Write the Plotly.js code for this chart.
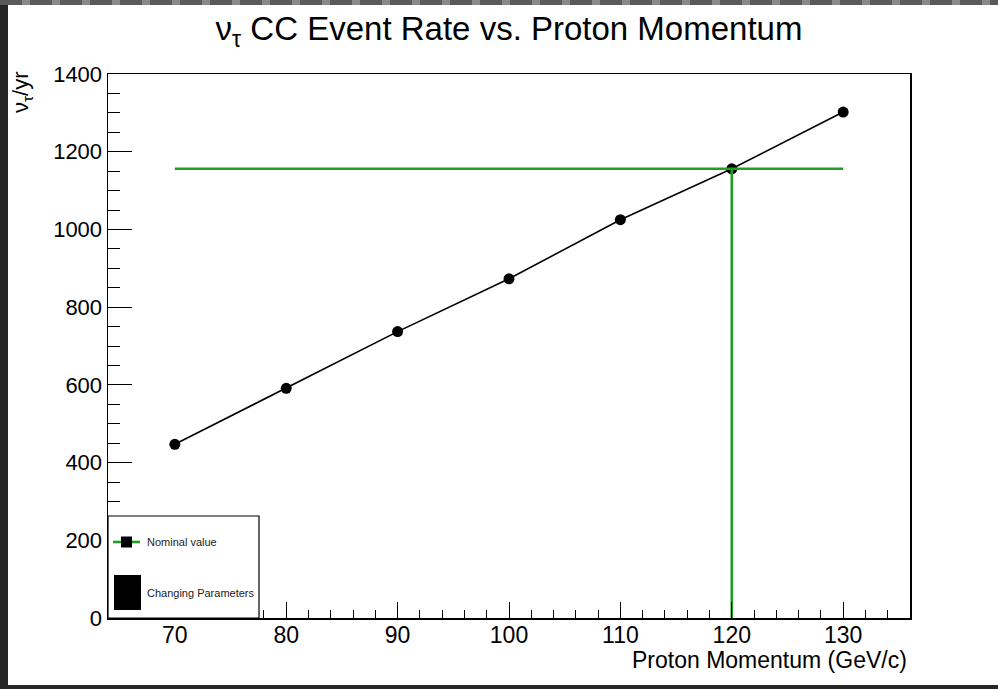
<!DOCTYPE html>
<html>
<head>
<meta charset="utf-8">
<script src="https://cdn.plot.ly/plotly-3.0.1.min.js"></script>
<style>
  html, body { margin: 0; padding: 0; width: 998px; height: 689px; background: #262626; overflow: hidden; }
  #topstrip { position: absolute; left: 0; top: 0; width: 998px; height: 5px; background: repeating-linear-gradient(90deg, #5a5a5a 0 22px, #8a8a8a 22px 30px); }
  #chart { position: absolute; left: 8px; top: 5px; width: 990px; height: 680px; background: #fff; }
</style>
</head>
<body>
<div id="topstrip"></div>
<div id="chart"></div>
<script>
// ---- data ----
const momentum = [70, 80, 90, 100, 110, 120, 130];          // GeV/c
const eventRate = [447, 591, 737, 873, 1025, 1156, 1302];   // nu_tau CC events / yr
const nominalMomentum = 120;
const nominalRate = 1156;
const titleText = "ν<sub>τ</sub> CC Event Rate vs. Proton Momentum";
const xTitleText = "Proton Momentum (GeV/c)";
const yTitleText = "ν<sub>τ</sub>/yr";
const legendLabels = ["Nominal value", "Changing Parameters"];

const FONT = "Liberation Sans, Arial, Helvetica, sans-serif";
const GREEN = "#1f9e1f";

const traces = [
  {
    x: momentum, y: eventRate, type: "scatter", mode: "lines+markers",
    line: { color: "#000", width: 1.6 },
    marker: { color: "#000", size: 11, symbol: "circle" },
    showlegend: false, hoverinfo: "x+y"
  },
  {
    x: [momentum[0], momentum[momentum.length - 1]], y: [nominalRate, nominalRate],
    type: "scatter", mode: "lines", line: { color: GREEN, width: 2.6 },
    showlegend: false
  },
  {
    x: [nominalMomentum, nominalMomentum], y: [0, nominalRate],
    type: "scatter", mode: "lines", line: { color: GREEN, width: 2.6 },
    showlegend: false
  }
];

// legend geometry (paper units of the 802x544 plot area)
const PW = 802, PH = 544;
const px = v => v / PW, py = v => v / PH;

const layout = {
  width: 990, height: 680,
  paper_bgcolor: "#fff", plot_bgcolor: "#fff",
  margin: { l: 100, r: 88, t: 69, b: 67 },
  font: { family: FONT, color: "#000" },
  title: {
    text: titleText, x: 0.5, xref: "paper", xanchor: "center",
    y: 0.965, yref: "container", yanchor: "middle",
    font: { family: FONT, size: 33, color: "#000" }
  },
  xaxis: {
    range: [64, 136], tick0: 70, dtick: 10,
    ticks: "inside", ticklen: 16, tickwidth: 1, tickcolor: "#000",
    showline: true, linecolor: "#000", linewidth: 1.5, mirror: true,
    showgrid: false, zeroline: false, ticklabelstandoff: -4,
    tickfont: { family: FONT, size: 23, color: "#000" },
    minor: { ticks: "inside", ticklen: 8, dtick: 2, tick0: 70, tickwidth: 1, tickcolor: "#000", showgrid: false }
  },
  yaxis: {
    range: [0, 1400], tick0: 0, dtick: 200,
    ticks: "inside", ticklen: 24, tickwidth: 1, tickcolor: "#000",
    showline: true, linecolor: "#000", linewidth: 1.5, mirror: true,
    showgrid: false, zeroline: false,
    tickfont: { family: FONT, size: 22, color: "#000" },
    minor: { ticks: "inside", ticklen: 12, dtick: 50, tick0: 0, tickwidth: 1, tickcolor: "#000", showgrid: false }
  },
  shapes: [
    // legend box
    { type: "rect", xref: "paper", yref: "paper", x0: 0, x1: px(151), y0: 0, y1: py(102),
      fillcolor: "#fff", line: { color: "#000", width: 1.2 }, layer: "above" },
    // nominal value sample: green line + black square
    { type: "line", xref: "paper", yref: "paper", x0: px(5), x1: px(32), y0: py(76), y1: py(76),
      line: { color: GREEN, width: 2.6 }, layer: "above" },
    { type: "rect", xref: "paper", yref: "paper", x0: px(13), x1: px(24), y0: py(70.5), y1: py(81.5),
      fillcolor: "#000", line: { color: "#000", width: 0 }, layer: "above" },
    // changing parameters sample: filled black box
    { type: "rect", xref: "paper", yref: "paper", x0: px(6), x1: px(33), y0: py(8), y1: py(43),
      fillcolor: "#000", line: { color: "#000", width: 0 }, layer: "above" }
  ],
  annotations: [
    { text: legendLabels[0], xref: "paper", yref: "paper", x: px(37), y: py(76),
      xanchor: "left", yanchor: "middle", showarrow: false,
      font: { family: FONT, size: 11, color: "#222" } },
    { text: legendLabels[1], xref: "paper", yref: "paper", x: px(37), y: py(25),
      xanchor: "left", yanchor: "middle", showarrow: false,
      font: { family: FONT, size: 11, color: "#222" } },
    { text: xTitleText, xref: "paper", yref: "paper", x: 1, y: 0,
      xanchor: "right", yanchor: "middle", yshift: -42, xshift: -1, showarrow: false,
      font: { family: FONT, size: 23, color: "#000" } },
    { text: yTitleText, xref: "paper", yref: "paper", x: 0, y: 1,
      xanchor: "center", yanchor: "top", xshift: -86, yshift: 5, textangle: -90, showarrow: false,
      font: { family: FONT, size: 22, color: "#000" } }
  ],
  showlegend: false
};

Plotly.newPlot("chart", traces, layout, { displayModeBar: false, staticPlot: true });
</script>
</body>
</html>
